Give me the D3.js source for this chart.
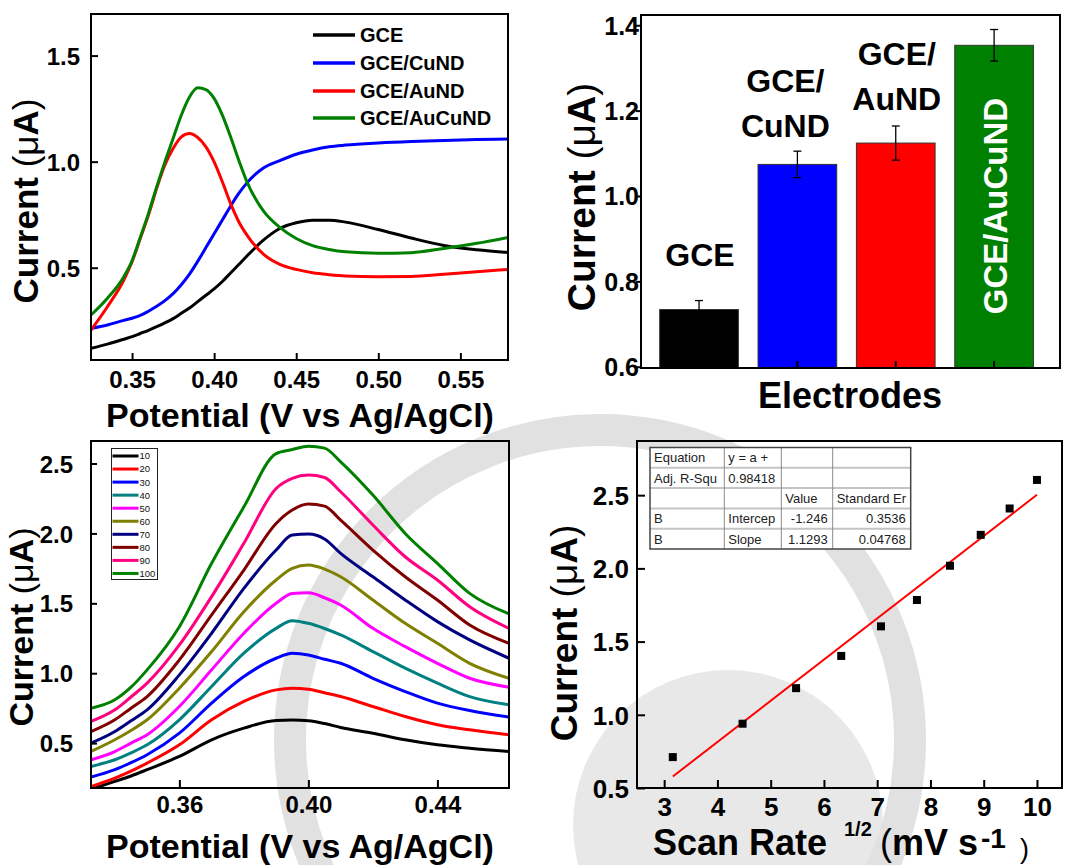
<!DOCTYPE html>
<html>
<head>
<meta charset="utf-8">
<script src="https://cdn.jsdelivr.net/npm/d3@7"></script>
<style>
  body { margin: 0; background: #fff; }
  svg { display: block; }
</style>
</head>
<body>
<svg id="fig" width="1082" height="865"></svg>
<script>
// ---------- (a) DPV of the four electrodes ----------
const dpvPotential = [0.325, 0.335, 0.345, 0.35, 0.355, 0.36, 0.365, 0.37, 0.375, 0.38, 0.385, 0.39, 0.395, 0.40, 0.405, 0.41, 0.415, 0.42, 0.43, 0.44, 0.45, 0.46, 0.47, 0.48, 0.50, 0.52, 0.54, 0.56, 0.579];
const dpvGCE     = [0.120, 0.140, 0.163, 0.175, 0.190, 0.205, 0.222, 0.240, 0.260, 0.285, 0.310, 0.340, 0.370, 0.400, 0.435, 0.475, 0.515, 0.555, 0.630, 0.685, 0.712, 0.724, 0.724, 0.715, 0.680, 0.640, 0.605, 0.585, 0.572];
const dpvCuND    = [0.214, 0.230, 0.252, 0.262, 0.275, 0.295, 0.318, 0.345, 0.378, 0.420, 0.470, 0.530, 0.595, 0.660, 0.725, 0.790, 0.850, 0.900, 0.970, 1.005, 1.035, 1.055, 1.070, 1.078, 1.088, 1.095, 1.100, 1.104, 1.107];
const dpvAuND    = [0.206, 0.316, 0.442, 0.528, 0.638, 0.748, 0.874, 0.984, 1.062, 1.117, 1.133, 1.114, 1.070, 0.999, 0.905, 0.803, 0.717, 0.654, 0.564, 0.516, 0.492, 0.476, 0.467, 0.461, 0.458, 0.459, 0.469, 0.481, 0.492];
const dpvAuCuND  = [0.277, 0.356, 0.458, 0.533, 0.643, 0.756, 0.881, 0.999, 1.109, 1.219, 1.305, 1.348, 1.340, 1.298, 1.219, 1.117, 1.007, 0.905, 0.768, 0.690, 0.638, 0.604, 0.586, 0.575, 0.568, 0.571, 0.591, 0.615, 0.643];
const dpvNames   = ["GCE", "GCE/CuND", "GCE/AuND", "GCE/AuCuND"];
const dpvColors  = ["#000000", "#0000ff", "#ff0000", "#008000"];
const dpvXTicks  = [0.35, 0.40, 0.45, 0.50, 0.55];
const dpvYTicks  = [0.5, 1.0, 1.5];

// ---------- (b) peak current per electrode ----------
const electrodeNames = ["GCE", "GCE/CuND", "GCE/AuND", "GCE/AuCuND"];
const peakCurrent    = [0.734, 1.074, 1.124, 1.353];
const peakError      = [0.021, 0.031, 0.040, 0.037];
const barColors      = ["#000000", "#0000ff", "#ff0000", "#008000"];
const barYTicks      = [0.6, 0.8, 1.0, 1.2, 1.4];

// ---------- (c) DPV of GCE/AuCuND at increasing scan rate ----------
const scanPotential = [0.3326, 0.34, 0.345, 0.35, 0.36, 0.37, 0.38, 0.39, 0.395, 0.40, 0.405, 0.41, 0.42, 0.43, 0.44, 0.45, 0.4622];
const scan10  = [0.170, 0.226, 0.265, 0.310, 0.405, 0.524, 0.607, 0.662, 0.665, 0.660, 0.640, 0.612, 0.571, 0.524, 0.488, 0.464, 0.440];
const scan20  = [0.190, 0.250, 0.300, 0.357, 0.488, 0.667, 0.798, 0.881, 0.893, 0.886, 0.860, 0.833, 0.762, 0.690, 0.631, 0.595, 0.560];
const scan30  = [0.257, 0.310, 0.360, 0.417, 0.571, 0.786, 0.976, 1.107, 1.143, 1.131, 1.100, 1.071, 0.964, 0.869, 0.786, 0.733, 0.686];
const scan40  = [0.333, 0.381, 0.430, 0.488, 0.667, 0.905, 1.143, 1.321, 1.376, 1.357, 1.320, 1.274, 1.155, 1.036, 0.929, 0.833, 0.774];
const scan50  = [0.381, 0.440, 0.500, 0.560, 0.762, 1.024, 1.286, 1.500, 1.570, 1.575, 1.540, 1.488, 1.321, 1.190, 1.071, 0.964, 0.900];
const scan60  = [0.440, 0.524, 0.590, 0.667, 0.893, 1.155, 1.440, 1.667, 1.750, 1.774, 1.745, 1.690, 1.524, 1.357, 1.214, 1.071, 0.964];
const scan70  = [0.500, 0.583, 0.660, 0.738, 0.988, 1.286, 1.607, 1.881, 1.988, 1.995, 1.960, 1.857, 1.690, 1.524, 1.369, 1.238, 1.107];
const scan80  = [0.583, 0.667, 0.750, 0.833, 1.095, 1.417, 1.738, 2.071, 2.167, 2.210, 2.195, 2.095, 1.881, 1.690, 1.524, 1.345, 1.214];
const scan90  = [0.655, 0.738, 0.830, 0.929, 1.202, 1.548, 1.929, 2.321, 2.393, 2.417, 2.400, 2.298, 2.060, 1.833, 1.667, 1.476, 1.321];
const scan100 = [0.750, 0.810, 0.900, 1.024, 1.333, 1.786, 2.190, 2.571, 2.600, 2.624, 2.610, 2.512, 2.274, 2.000, 1.786, 1.571, 1.424];
const scanRates  = ["10", "20", "30", "40", "50", "60", "70", "80", "90", "100"];
const scanColors = ["#000000", "#ff0000", "#0000ff", "#008080", "#ff00ff", "#808000", "#000080", "#800000", "#ff0080", "#008000"];
const scanXTicks = [0.36, 0.40, 0.44];
const scanYTicks = [0.5, 1.0, 1.5, 2.0, 2.5];

// ---------- (d) peak current vs square root of scan rate ----------
const sqrtScanRate = [3.162, 4.472, 5.477, 6.325, 7.071, 7.746, 8.367, 8.944, 9.487, 10.0];
const peakVsRate   = [0.711, 0.939, 1.182, 1.402, 1.604, 1.784, 2.018, 2.229, 2.409, 2.604];
const rateXTicks   = [3, 4, 5, 6, 7, 8, 9, 10];
const rateYTicks   = [0.5, 1.0, 1.5, 2.0, 2.5];
const fitTableRows = [
  ["Equation", "y = a +", "", ""],
  ["Adj. R-Squ", "0.98418", "", ""],
  ["", "", "Value", "Standard Er"],
  ["B", "Intercep", "-1.246", "0.3536"],
  ["B", "Slope", "1.1293", "0.04768"]
];

// ---------------------------------------------------------------
const FONT = '"Liberation Sans", Arial, Helvetica, sans-serif';
const svg = d3.select("#fig").attr("font-family", FONT);

// faint seal in the background
const seal = svg.append("g");
seal.append("circle").attr("cx", 728).attr("cy", 825).attr("r", 155).attr("fill", "#e8e8e8");
seal.append("circle").attr("cx", 600).attr("cy", 740).attr("r", 310)
  .attr("fill", "none").attr("stroke", "#e1e1e1").attr("stroke-width", 32);

function clip(id, b) {
  svg.append("clipPath").attr("id", id).append("rect")
    .attr("x", b.left).attr("y", b.top)
    .attr("width", b.right - b.left).attr("height", b.bottom - b.top);
  return `url(#${id})`;
}

function frame(b) {
  svg.append("rect").attr("x", b.left).attr("y", b.top)
    .attr("width", b.right - b.left).attr("height", b.bottom - b.top)
    .attr("fill", "none").attr("stroke", "#000").attr("stroke-width", 2);
}

function bottomAxis(scale, ticks, fmt, b, tick, labelY, size) {
  const g = svg.append("g").attr("transform", `translate(0,${b.bottom})`)
    .call(d3.axisBottom(scale).tickValues(ticks).tickFormat(d3.format(fmt))
      .tickSizeInner(tick).tickSizeOuter(0));
  g.attr("font-family", FONT).attr("font-size", size).attr("font-weight", "bold");
  g.select(".domain").remove();
  g.selectAll(".tick line").attr("stroke", "#000").attr("stroke-width", 2);
  g.selectAll(".tick text").attr("y", labelY).attr("dy", null).attr("fill", "#000");
  return g;
}

function leftAxis(scale, ticks, fmt, b, tick, labelX, size) {
  const g = svg.append("g").attr("transform", `translate(${b.left},0)`)
    .call(d3.axisLeft(scale).tickValues(ticks).tickFormat(d3.format(fmt))
      .tickSizeInner(tick).tickSizeOuter(0));
  g.attr("font-family", FONT).attr("font-size", size).attr("font-weight", "bold");
  g.select(".domain").remove();
  g.selectAll(".tick line").attr("stroke", "#000").attr("stroke-width", 2);
  g.selectAll(".tick text").attr("x", -labelX).attr("dy", "0.36em").attr("fill", "#000");
  return g;
}

function currentTitle(x, y, size) {
  const t = svg.append("text")
    .attr("transform", `translate(${x},${y}) rotate(-90)`)
    .attr("text-anchor", "middle").attr("font-size", size).attr("fill", "#000");
  t.append("tspan").attr("font-weight", "bold").text("Current ");
  t.append("tspan").attr("font-weight", "normal").text("(\u03bc");
  t.append("tspan").attr("font-weight", "bold").text("A");
  t.append("tspan").attr("font-weight", "normal").text(")");
}

function potentialTitle(cx, baseline) {
  svg.append("text").attr("x", cx).attr("y", baseline)
    .attr("text-anchor", "middle").attr("font-size", 34).attr("font-weight", "bold")
    .text("Potential (V vs Ag/AgCl)");
}

// ===================== panel (a) =====================
{
  const b = { left: 91, right: 508, top: 14, bottom: 360 };
  const x = d3.scaleLinear().domain([0.325, 0.579]).range([b.left, b.right]);
  const y = d3.scaleLinear().domain([0.065, 1.696]).range([b.bottom, b.top]);
  const cp = clip("clipA", b);
  const series = [dpvGCE, dpvCuND, dpvAuND, dpvAuCuND];
  const line = d3.line().x((d, i) => x(dpvPotential[i])).y(d => y(d)).curve(d3.curveMonotoneX);
  const g = svg.append("g").attr("clip-path", cp);
  series.forEach((s, k) => {
    g.append("path").attr("d", line(s)).attr("fill", "none")
      .attr("stroke", dpvColors[k]).attr("stroke-width", 3).attr("stroke-linejoin", "round");
  });
  // legend
  const lg = svg.append("g");
  const rowY = [35, 63, 91, 118];
  dpvNames.forEach((n, k) => {
    lg.append("line").attr("x1", 313).attr("x2", 355).attr("y1", rowY[k]).attr("y2", rowY[k])
      .attr("stroke", dpvColors[k]).attr("stroke-width", 3.5);
    lg.append("text").attr("x", 360).attr("y", rowY[k]).attr("dy", "0.36em")
      .attr("font-size", 20).attr("font-weight", "bold").text(n);
  });
  bottomAxis(x, dpvXTicks, ".2f", b, -7, 28, 24);
  leftAxis(y, dpvYTicks, ".1f", b, -7, 11, 24);
  frame(b);
  potentialTitle(300, 427);
  currentTitle(38, 201, 35);
}

// ===================== panel (b) =====================
{
  const b = { left: 641, right: 1060, top: 15, bottom: 368 };
  const x = d3.scaleLinear().domain([0.41, 4.67]).range([b.left, b.right]);
  const y = d3.scaleLinear().domain([0.597, 1.424]).range([b.bottom, b.top]);
  const half = x(1.4) - x(1);   // bars are 0.8 category units wide
  const g = svg.append("g");
  peakCurrent.forEach((v, i) => {
    g.append("rect").attr("x", x(i + 1) - half).attr("y", y(v))
      .attr("width", 2 * half).attr("height", y(0.597) - y(v))
      .attr("fill", barColors[i]).attr("stroke", "#333").attr("stroke-width", 1);
  });
  // error bars
  peakCurrent.forEach((v, i) => {
    const cx = x(i + 1), e = peakError[i];
    g.append("line").attr("x1", cx).attr("x2", cx).attr("y1", y(v + e)).attr("y2", y(v - e))
      .attr("stroke", "#000").attr("stroke-width", 1.3);
    [v + e, v - e].forEach(t => g.append("line").attr("x1", cx - 4).attr("x2", cx + 4)
      .attr("y1", y(t)).attr("y2", y(t)).attr("stroke", "#000").attr("stroke-width", 1.3));
  });
  // bar captions
  const cap = (cx, base, str) => svg.append("text").attr("x", cx).attr("y", base)
    .attr("text-anchor", "middle").attr("font-size", 32).attr("font-weight", "bold").text(str);
  cap(x(1) + 1, 266, "GCE");
  cap(x(2) - 12, 92, "GCE/");
  cap(x(2) - 12, 137, "CuND");
  cap(x(3) + 1, 65, "GCE/");
  cap(x(3) + 1, 110, "AuND");
  svg.append("text").attr("transform", `translate(${x(4) + 13},206) rotate(-90)`)
    .attr("text-anchor", "middle").attr("font-size", 33).attr("font-weight", "bold")
    .attr("fill", "#fff").text(electrodeNames[3]);
  // category ticks on the bottom edge
  [1, 2, 3, 4].forEach(i => svg.append("line").attr("x1", x(i)).attr("x2", x(i))
    .attr("y1", b.bottom).attr("y2", b.bottom - 7).attr("stroke", "#000").attr("stroke-width", 2));
  leftAxis(y, barYTicks, ".1f", b, 5, 2, 25);
  frame(b);
  svg.append("text").attr("x", 850).attr("y", 408).attr("text-anchor", "middle")
    .attr("font-size", 36).attr("font-weight", "bold").text("Electrodes");
  currentTitle(595, 197, 39);
}

// ===================== panel (c) =====================
{
  const b = { left: 91, right: 509, top: 441, bottom: 788 };
  const x = d3.scaleLinear().domain([0.3326, 0.4622]).range([b.left, b.right]);
  const y = d3.scaleLinear().domain([0.179, 2.661]).range([b.bottom, b.top]);
  const cp = clip("clipC", b);
  const series = [scan10, scan20, scan30, scan40, scan50, scan60, scan70, scan80, scan90, scan100];
  const line = d3.line().x((d, i) => x(scanPotential[i])).y(d => y(d)).curve(d3.curveMonotoneX);
  const g = svg.append("g").attr("clip-path", cp);
  series.forEach((s, k) => {
    g.append("path").attr("d", line(s)).attr("fill", "none")
      .attr("stroke", scanColors[k]).attr("stroke-width", 3).attr("stroke-linejoin", "round");
  });
  // legend box
  const lg = svg.append("g");
  lg.append("rect").attr("x", 111.5).attr("y", 448.5).attr("width", 46).attr("height", 131)
    .attr("fill", "#fff").attr("stroke", "#222").attr("stroke-width", 1);
  scanRates.forEach((r, k) => {
    const yy = 456 + k * 13.05;
    lg.append("line").attr("x1", 112.5).attr("x2", 138.5).attr("y1", yy).attr("y2", yy)
      .attr("stroke", scanColors[k]).attr("stroke-width", 3);
    lg.append("text").attr("x", 139.5).attr("y", yy).attr("dy", "0.36em")
      .attr("font-size", 9.5).attr("fill", "#111").text(r);
  });
  bottomAxis(x, scanXTicks, ".2f", b, -8, 25, 24);
  leftAxis(y, scanYTicks, ".1f", b, -6, 18, 24);
  frame(b);
  potentialTitle(300, 858);
  currentTitle(33, 627, 34);
}

// ===================== panel (d) =====================
{
  const b = { left: 637, right: 1062, top: 441, bottom: 788 };
  const x = d3.scaleLinear().domain([2.49, 10.47]).range([b.left, b.right]);
  const y = d3.scaleLinear().domain([0.5, 2.87]).range([b.bottom, b.top]);
  // least-squares line through the peak currents
  const mx = d3.mean(sqrtScanRate), my = d3.mean(peakVsRate);
  const slope = d3.sum(sqrtScanRate, (v, i) => (v - mx) * (peakVsRate[i] - my)) /
                d3.sum(sqrtScanRate, v => (v - mx) * (v - mx));
  const icpt = my - slope * mx;
  const [xa, xb] = d3.extent(sqrtScanRate);
  svg.append("line").attr("x1", x(xa)).attr("y1", y(icpt + slope * xa))
    .attr("x2", x(xb)).attr("y2", y(icpt + slope * xb))
    .attr("stroke", "#ff0000").attr("stroke-width", 2);
  svg.append("g").selectAll("rect").data(sqrtScanRate).join("rect")
    .attr("x", d => x(d) - 4).attr("y", (d, i) => y(peakVsRate[i]) - 4)
    .attr("width", 8).attr("height", 8).attr("fill", "#000");

  // fit-result table
  const colX = [650, 724.3, 781.3, 832.7, 910.7];
  const top = 447.5, rowH = 20.3;
  const tg = svg.append("g").attr("font-size", 13).attr("fill", "#222");
  tg.append("rect").attr("x", colX[0]).attr("y", top).attr("width", colX[4] - colX[0])
    .attr("height", rowH * 5).attr("fill", "#fff");
  for (let r = 1; r < 5; r++) {
    tg.append("line").attr("x1", colX[0]).attr("x2", colX[4])
      .attr("y1", top + r * rowH).attr("y2", top + r * rowH)
      .attr("stroke", "#c4c4c4").attr("stroke-width", 2);
  }
  for (let c = 1; c < 4; c++) {
    tg.append("line").attr("x1", colX[c]).attr("x2", colX[c])
      .attr("y1", top).attr("y2", top + rowH * 5)
      .attr("stroke", "#8a8a8a").attr("stroke-width", 1);
  }
  tg.append("rect").attr("x", colX[0]).attr("y", top).attr("width", colX[4] - colX[0])
    .attr("height", rowH * 5).attr("fill", "none").attr("stroke", "#444").attr("stroke-width", 1.5);
  fitTableRows.forEach((row, r) => {
    row.forEach((cell, c) => {
      if (!cell) return;
      const numeric = r >= 3 && c >= 2;
      tg.append("text")
        .attr("x", numeric ? colX[c + 1] - 5 : colX[c] + 4)
        .attr("y", top + r * rowH + rowH / 2).attr("dy", "0.36em")
        .attr("text-anchor", numeric ? "end" : "start").text(cell);
    });
  });

  bottomAxis(x, rateXTicks, "d", b, -8, 28, 26);
  leftAxis(y, rateYTicks, ".1f", b, -8, 8, 26);
  frame(b);
  currentTitle(577, 633, 37);

  const t = svg.append("text").attr("font-weight", "bold").attr("fill", "#000");
  t.append("tspan").attr("x", 653).attr("y", 855).attr("font-size", 36).text("Scan Rate");
  t.append("tspan").attr("x", 844).attr("y", 836).attr("font-size", 20).text("1/2");
  t.append("tspan").attr("x", 880).attr("y", 855).attr("font-size", 36).attr("font-weight", "normal").text("(");
  t.append("tspan").attr("y", 855).attr("font-size", 36).text("mV s");
  t.append("tspan").attr("x", 981).attr("y", 848).attr("font-size", 28).text("-1");
  t.append("tspan").attr("x", 1020).attr("y", 858).attr("font-size", 27).attr("font-weight", "normal").text(")");
}
</script>
</body>
</html>
